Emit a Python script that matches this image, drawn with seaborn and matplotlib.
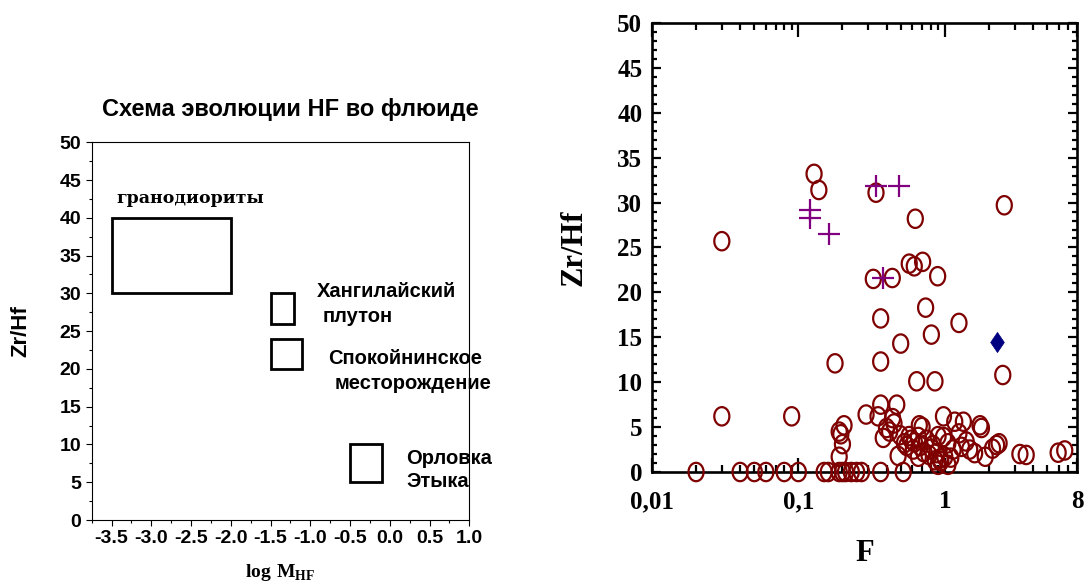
import numpy as np
import matplotlib
matplotlib.use("Agg")
import matplotlib.pyplot as plt
from matplotlib.patches import Rectangle
from matplotlib.path import Path
from matplotlib.ticker import MultipleLocator, FixedLocator, FixedFormatter, LogLocator, NullFormatter, FormatStrFormatter
import seaborn as sns

# ---------------- data: left panel (boxes) ----------------
box_names = ["гранодиориты", "Хангилайский", "Спокойнинское", "Орловка"]
box_x0 = [-3.5, -1.5, -1.5, -0.5]
box_x1 = [-2.0, -1.2, -1.1, -0.1]
box_y0 = [30, 26, 20, 5]
box_y1 = [40, 30, 24, 10]

# ---------------- data: right panel ----------------
circle_F = [0.03, 0.128, 0.138, 0.339, 0.629, 2.55, 0.572, 0.619, 0.706, 0.325, 0.438, 0.894,
            0.74, 0.365, 1.25, 0.81, 0.50, 0.178, 0.365, 0.643, 0.857, 2.49, 0.03, 0.09,
            0.02, 0.04, 0.05, 0.06, 0.08, 0.1, 0.15, 0.16, 0.19, 0.20, 0.21, 0.23, 0.25, 0.27, 0.365, 0.52,
            0.19, 0.205, 0.195, 0.2, 0.19, 0.29,
            0.35, 0.365, 0.47, 0.44, 0.45, 0.38, 0.42, 0.40, 0.495, 0.48, 0.53, 0.59, 0.66, 0.67, 0.70,
            0.61, 0.66, 0.75, 0.81, 0.88, 0.93, 0.86, 1.0, 0.98, 0.98, 1.05, 1.17, 1.34, 1.25, 1.14,
            1.40, 1.48, 1.6, 1.74, 1.78, 1.89, 2.12, 2.26, 2.35, 3.26, 3.6, 5.95, 6.6,
            0.94, 0.9, 1.05, 0.55, 0.57, 0.72, 0.78, 0.83, 0.9, 1.1, 1.3, 0.62, 0.68]
circle_ZrHf = [25.7, 33.2, 31.4, 31.1, 28.2, 29.7, 23.2, 22.9, 23.4, 21.5, 21.6, 21.8,
               18.3, 17.1, 16.6, 15.3, 14.3, 12.1, 12.3, 10.1, 10.1, 10.8, 6.2, 6.2,
               0, 0, 0, 0, 0, 0, 0, 0, 0, 0, 0, 0, 0, 0, 0, 0,
               4.5, 5.2, 4.2, 3.1, 1.7, 6.4,
               6.2, 7.5, 7.5, 6.0, 5.4, 3.8, 4.5, 4.9, 4.1, 1.8, 3.2, 3.6, 3.9, 5.2, 5.0,
               2.5, 1.7, 3.6, 2.6, 2.1, 1.5, 1.3, 1.7, 6.2, 3.9, 3.2, 5.6, 5.6, 4.3, 2.5,
               3.4, 2.5, 2.1, 5.2, 4.9, 1.7, 2.6, 3.0, 3.2, 2.0, 1.9, 2.15, 2.4,
               1.2, 0.8, 0.8, 2.9, 4.0, 2.2, 1.9, 3.0, 4.0, 1.6, 2.8, 3.3, 2.9]
plus_F = [0.12, 0.12, 0.161, 0.34, 0.484, 0.377]
plus_ZrHf = [29.2, 28.3, 26.5, 31.8, 31.8, 21.6]
diamond_F = [2.28]
diamond_ZrHf = [14.5]

F_ticks = [0.01, 0.1, 1, 8]
F_ticklabels = ["0,01", "0,1", "1", "8"]

# ---------------- style ----------------
sns.set_style("ticks")
plt.rcParams["font.family"] = ["Liberation Sans", "DejaVu Sans"]
plt.rcParams["axes.unicode_minus"] = False
plt.rcParams["text.color"] = "black"
plt.rcParams["axes.labelcolor"] = "black"
plt.rcParams["xtick.color"] = "black"
plt.rcParams["ytick.color"] = "black"
plt.rcParams["mathtext.fontset"] = "custom"
plt.rcParams["mathtext.rm"] = "Liberation Serif"
plt.rcParams["mathtext.bf"] = "Liberation Serif:bold"

fig = plt.figure(figsize=(10.85, 5.87), dpi=100)
fig.patch.set_facecolor("white")

# ================= LEFT PANEL =================
axL = fig.add_axes([0.0845, 0.1141, 0.348, 0.6435])
axL.set_xlim(-3.75, 1.0)
axL.set_ylim(0, 50)
for x0, x1, y0, y1 in zip(box_x0, box_x1, box_y0, box_y1):
    axL.add_patch(Rectangle((x0, y0), x1 - x0, y1 - y0, fill=False, edgecolor="black", linewidth=2.0))

axL.xaxis.set_major_locator(MultipleLocator(0.5))
axL.xaxis.set_minor_locator(MultipleLocator(0.25))
axL.xaxis.set_major_formatter(FormatStrFormatter("%.1f"))
axL.yaxis.set_major_locator(MultipleLocator(5))
axL.yaxis.set_minor_locator(MultipleLocator(2.5))
axL.tick_params(axis="both", which="major", direction="out", length=4.5, width=0.8, pad=3,
                labelsize=14, colors="black")
axL.tick_params(axis="both", which="minor", direction="out", length=2.5, width=0.8)
for lab in axL.get_xticklabels() + axL.get_yticklabels():
    lab.set_fontweight("bold")
for sp in axL.spines.values():
    sp.set_visible(True)
    sp.set_linewidth(0.8)
    sp.set_color("black")

axL.text(0.525, 1.088, "Схема эволюции HF во флюиде", transform=axL.transAxes,
         ha="center", va="center", fontsize=17, fontweight="bold")
axL.set_ylabel("Zr/Hf", fontsize=16, fontweight="bold")
axL.yaxis.set_label_coords(-0.16, 0.5)
axL.set_xlabel(r"$\mathbf{log\ M}_{\mathbf{HF}}$", fontsize=14)
axL.xaxis.set_label_coords(0.5, -0.112)

ann_kw = dict(ha="left", va="center", fontsize=14.5, fontweight="bold")
axL.text(-3.44, 42.6, "гранодиориты", ha="left", va="center", fontsize=12.5,
         fontweight="bold", family=["DejaVu Serif"])
axL.text(-0.92, 30.2, "Хангилайский", **ann_kw)
axL.text(-0.84, 26.9, "плутон", **ann_kw)
axL.text(-0.774, 21.4, "Спокойнинское", **ann_kw)
axL.text(-0.70, 18.1, "месторождение", **ann_kw)
axL.text(0.21, 8.17, "Орловка", **ann_kw)
axL.text(0.21, 5.07, "Этыка", **ann_kw)

# ================= RIGHT PANEL =================
axR = fig.add_axes([0.6009, 0.1959, 0.3917, 0.765])
axR.set_xscale("log")

t = np.linspace(0, 2 * np.pi, 64)
ellipse = Path(np.column_stack([0.82 * np.cos(t), np.sin(t)]), closed=True)
diamond = Path([(0, 1), (0.68, 0), (0, -1), (-0.68, 0), (0, 1)], closed=True)

sns.scatterplot(x=circle_F, y=circle_ZrHf, ax=axR, marker=ellipse, s=175,
                facecolor="none", edgecolor="#7f0000", linewidth=1.6, zorder=3, clip_on=False)
sns.scatterplot(x=plus_F, y=plus_ZrHf, ax=axR, marker="+", s=230,
                color="#800080", linewidth=1.6, zorder=4, clip_on=False)
sns.scatterplot(x=diamond_F, y=diamond_ZrHf, ax=axR, marker=diamond, s=210,
                color="#000080", edgecolor="#000080", linewidth=0.5, zorder=4, clip_on=False)

axR.set_xlim(0.01, 8)
axR.set_ylim(0, 50)
axR.xaxis.set_major_locator(FixedLocator(F_ticks))
axR.xaxis.set_major_formatter(FixedFormatter(F_ticklabels))
axR.xaxis.set_minor_locator(LogLocator(base=10, subs=np.arange(2, 10)))
axR.xaxis.set_minor_formatter(NullFormatter())
axR.yaxis.set_major_locator(MultipleLocator(5))
axR.yaxis.set_minor_locator(MultipleLocator(1))
axR.tick_params(axis="both", which="both", direction="in", top=True, right=True, width=1.6, colors="black")
axR.tick_params(axis="x", which="major", length=10, pad=13)
axR.tick_params(axis="x", which="minor", length=5)
axR.tick_params(axis="y", which="major", length=6.5, pad=7)
axR.tick_params(axis="y", which="minor", length=3.5)
for lab in axR.get_xticklabels() + axR.get_yticklabels():
    lab.set_fontfamily(["Liberation Serif", "DejaVu Serif"])
    lab.set_fontweight("bold")
    lab.set_fontsize(18)
for sp in axR.spines.values():
    sp.set_visible(True)
    sp.set_linewidth(1.9)
    sp.set_color("black")

axR.set_ylabel("Zr/Hf", fontsize=22, fontweight="bold", family=["Liberation Serif", "DejaVu Serif"])
axR.yaxis.set_label_coords(-0.15, 0.5)
axR.set_xlabel("F", fontsize=22, fontweight="bold", family=["Liberation Serif", "DejaVu Serif"])
axR.xaxis.set_label_coords(0.5, -0.15)

fig.savefig("out.png", dpi=100, facecolor="white")
